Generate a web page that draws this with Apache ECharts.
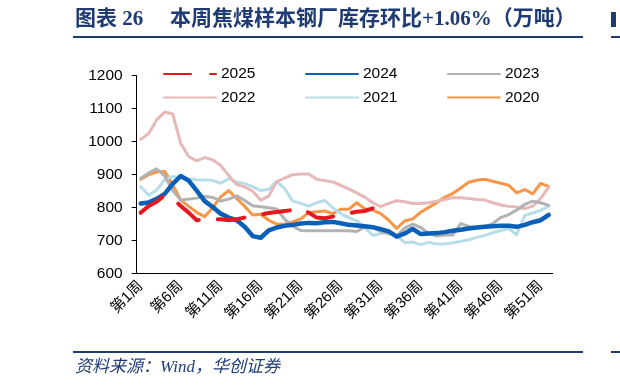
<!DOCTYPE html>
<html><head><meta charset="utf-8">
<script src="https://cdn.jsdelivr.net/npm/echarts@6/dist/echarts.min.js"></script>
<style>html,body{margin:0;padding:0;background:#fff}#c{width:620px;height:389px}</style>
</head><body><div id="c"></div>
<script>
const weeks = ['第1周','第2周','第3周','第4周','第5周','第6周','第7周','第8周','第9周','第10周',
'第11周','第12周','第13周','第14周','第15周','第16周','第17周','第18周','第19周','第20周',
'第21周','第22周','第23周','第24周','第25周','第26周','第27周','第28周','第29周','第30周',
'第31周','第32周','第33周','第34周','第35周','第36周','第37周','第38周','第39周','第40周',
'第41周','第42周','第43周','第44周','第45周','第46周','第47周','第48周','第49周','第50周',
'第51周','第52周'];
const yTicks = [600, 700, 800, 900, 1000, 1100, 1200];
const s2025 = [785, 805, 818, 838, 828, 805, 785, 762, 765, 765, 765, 762, 765, 770, 775, 779, 784, 787, 790, 793, 797, 785, 770, 768, 773, 778, 783, 788, 790, 798];
const s2024 = [813, 816, 827, 842, 872, 896, 882, 852, 820, 802, 782, 770, 762, 742, 714, 709, 731, 740, 745, 748, 752, 754, 753, 756, 757, 753, 748, 746, 744, 741, 735, 728, 712, 722, 736, 720, 722, 723, 726, 730, 733, 737, 740, 742, 744, 745, 745, 742, 748, 756, 762, 778];
const s2023 = [889, 905, 918, 896, 852, 823, 826, 829, 834, 831, 820, 826, 836, 822, 806, 803, 800, 796, 765, 744, 731, 730, 730, 730, 730, 730, 730, 728, 742, 740, 727, 722, 715, 738, 750, 740, 722, 714, 717, 717, 752, 743, 740, 742, 752, 770, 779, 793, 810, 820, 815, 807];
const s2022 = [1007, 1025, 1066, 1090, 1084, 995, 955, 942, 952, 945, 928, 898, 870, 863, 850, 823, 835, 879, 890, 900, 902, 902, 886, 882, 878, 868, 857, 845, 832, 815, 803, 813, 821, 818, 813, 813, 815, 820, 825, 830, 830, 828, 825, 823, 815, 808, 804, 802, 797, 805, 828, 862];
const s2021 = [864, 838, 854, 886, 894, 892, 888, 885, 884, 883, 874, 888, 877, 873, 864, 852, 856, 880, 858, 820, 813, 805, 815, 822, 800, 782, 770, 760, 740, 716, 722, 725, 715, 694, 696, 688, 695, 690, 690, 694, 698, 703, 710, 716, 724, 731, 737, 718, 776, 784, 792, 805];
const s2020 = [886, 900, 908, 910, 870, 823, 804, 786, 773, 800, 833, 852, 828, 804, 778, 780, 762, 750, 750, 757, 766, 785, 788, 790, 782, 795, 795, 815, 797, 793, 782, 762, 737, 760, 766, 786, 801, 815, 832, 843, 860, 877, 883, 886, 880, 874, 868, 845, 855, 842, 874, 864];
const seriesNames = ['2025', '2024', '2023', '2022', '2021', '2020'];

const FONT = '"Liberation Sans", Arial, "Noto Sans CJK SC", sans-serif';
const SERIF = '"Liberation Serif", "Noto Sans CJK SC", serif';
const NAVY = '#1f3b73';
const chart = echarts.init(document.getElementById('c'), null, {renderer: 'canvas'});

const styles = {
  '2025': {color: '#e8161f', width: 4, type: [27, 19]},
  '2024': {color: '#0a60b8', width: 4.5, type: 'solid'},
  '2023': {color: '#b2b2b2', width: 3, type: 'solid'},
  '2022': {color: '#e6b9b8', width: 3, type: 'solid'},
  '2021': {color: '#b7dde8', width: 3, type: 'solid'},
  '2020': {color: '#f79646', width: 3, type: 'solid'}
};
const dataMap = {'2025': s2025, '2024': s2024, '2023': s2023, '2022': s2022, '2021': s2021, '2020': s2020};
const drawOrder = ['2020', '2021', '2022', '2023', '2024', '2025'];
const legendPos = {
  '2025': [163, 66.3], '2024': [305, 66.3], '2023': [447, 66.3],
  '2022': [163, 89.7], '2021': [305, 89.7], '2020': [447, 89.7]
};

const option = {
  animation: false,
  backgroundColor: '#fff',
  grid: {left: 136.7, right: 67.3, top: 75.7, bottom: 115.3, containLabel: false, outerBoundsMode: 'none'},
  xAxis: {
    type: 'category', data: weeks, boundaryGap: true,
    axisLine: {lineStyle: {color: '#000', width: 1}},
    axisTick: {interval: 4, length: 5, lineStyle: {color: '#000'}},
    axisLabel: {interval: 4, rotate: 45, fontSize: 15, color: '#000', fontFamily: FONT, margin: 10}
  },
  yAxis: {
    type: 'value', min: yTicks[0], max: yTicks[yTicks.length - 1], interval: 100,
    axisLine: {show: true, lineStyle: {color: '#000'}},
    axisTick: {show: true, length: 5, lineStyle: {color: '#000'}},
    splitLine: {show: false},
    axisLabel: {fontSize: 15.5, color: '#000', margin: 14, fontFamily: FONT, formatter: v => String(v)}
  },
  legend: seriesNames.map(n => ({
    data: [n], left: legendPos[n][0], top: legendPos[n][1],
    itemWidth: 52, itemHeight: 16, itemGap: 0, padding: 0, selectedMode: false,
    itemStyle: {opacity: 0},
    textStyle: {fontSize: 15.5, color: '#000', fontFamily: FONT}
  })),
  series: drawOrder.map(n => ({
    name: n, type: 'line', data: dataMap[n], symbol: 'none', showSymbol: false,
    lineStyle: {color: styles[n].color, width: styles[n].width, type: styles[n].type, cap: 'round', join: 'round'},
    itemStyle: {color: styles[n].color}
  })),
  graphic: [
    {type: 'text', x: 75, y: 20, style: {text: '图表 26', fontSize: 21, fontWeight: 'bold', fontFamily: SERIF, fill: NAVY, verticalAlign: 'middle'}},
    {type: 'text', x: 170, y: 20, style: {text: '本周焦煤样本钢厂库存环比+1.06%（万吨）', fontSize: 21, fontWeight: 'bold', fontFamily: SERIF, fill: NAVY, verticalAlign: 'middle'}},
    {type: 'rect', shape: {x: 73, y: 36, width: 510, height: 2}, style: {fill: NAVY}},
    {type: 'rect', shape: {x: 611, y: 12, width: 5, height: 15}, style: {fill: NAVY}},
    {type: 'rect', shape: {x: 611, y: 36, width: 9, height: 2}, style: {fill: NAVY}},
    {type: 'rect', shape: {x: 73, y: 351, width: 510, height: 2}, style: {fill: NAVY}},
    {type: 'rect', shape: {x: 611, y: 351, width: 9, height: 2}, style: {fill: NAVY}},
    {type: 'text', x: 75, y: 368, style: {text: '资料来源：Wind，华创证券', fontSize: 17, fontStyle: 'italic', fontFamily: SERIF, fill: NAVY, verticalAlign: 'middle'}}
  ]
};
chart.setOption(option);
</script></body></html>
